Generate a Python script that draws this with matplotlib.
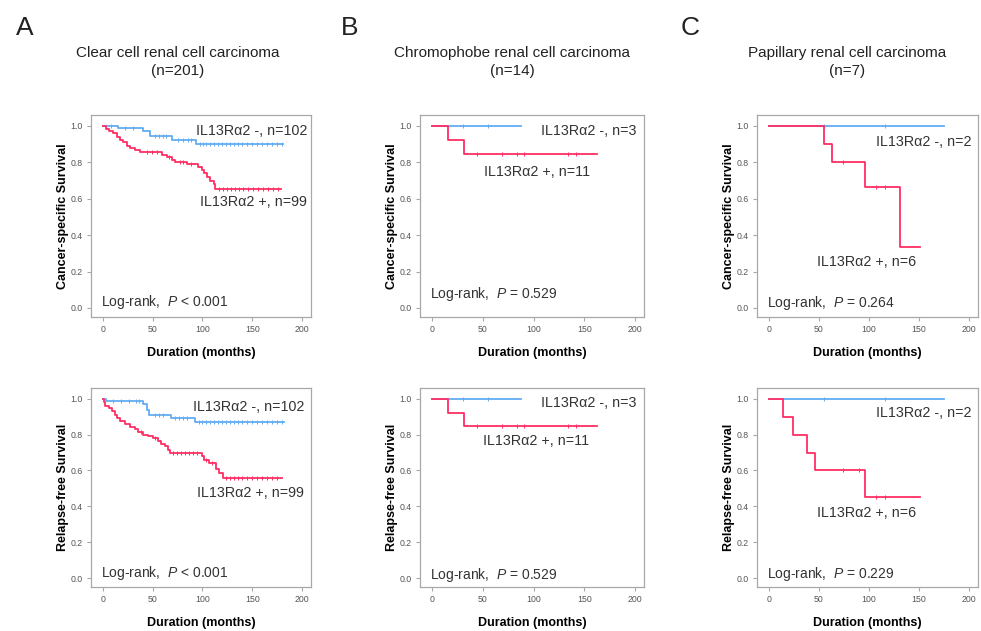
import numpy as np
import matplotlib
matplotlib.use("Agg")
import matplotlib.pyplot as plt

plt.rcParams['font.family'] = ['Liberation Sans', 'DejaVu Sans']
plt.rcParams['mathtext.fontset'] = 'custom'
plt.rcParams['mathtext.rm'] = 'Liberation Sans'
plt.rcParams['mathtext.it'] = 'Liberation Sans:italic'

BLUE = '#62adf2'
RED = '#ff2e63'

# ---- data: (event times, survival after each step), last time = end of follow-up
# A: clear cell, cancer-specific
a_css_neg_t = [0, 15, 40, 47, 69, 93, 181]
a_css_neg_s = [1.0, 0.99, 0.973, 0.945, 0.925, 0.90, 0.90]
a_css_neg_c = [8, 22, 30, 52, 56, 60, 63, 75, 80, 85, 88, 97, 101, 104, 108, 112, 116, 120, 124,
               128, 132, 136, 140, 145, 150, 155, 160, 165, 170, 175, 180]
a_css_pos_t = [0, 3, 6, 10, 14, 17, 20, 24, 27, 32, 37, 59, 64, 69, 72, 84, 95, 100, 102, 105,
               108, 112, 113, 179]
a_css_pos_s = [1.0, 0.985, 0.97, 0.96, 0.94, 0.925, 0.91, 0.89, 0.88, 0.866, 0.855, 0.84, 0.83,
               0.815, 0.80, 0.79, 0.775, 0.757, 0.74, 0.72, 0.70, 0.68, 0.655, 0.655]
a_css_pos_c = [44, 49, 54, 66, 77, 80, 88, 117, 121, 125, 129, 133, 137, 141, 146, 151, 156,
               161, 166, 171, 176]

# A: clear cell, relapse-free
a_rfs_neg_t = [0, 3, 40, 44, 46, 68, 92, 182]
a_rfs_neg_s = [1.0, 0.985, 0.97, 0.94, 0.91, 0.893, 0.868, 0.868]
a_rfs_neg_c = [10, 18, 26, 33, 36, 52, 56, 60, 72, 76, 80, 84, 96, 100, 104, 108, 112, 116, 120,
               124, 128, 132, 136, 140, 145, 150, 155, 160, 165, 170, 175, 180]
a_rfs_pos_t = [0, 0.7, 2.3, 5.6, 9, 12.3, 14, 17.3, 22.3, 27.2, 32.2, 35.5, 40.5, 45.5, 49.8,
               55.5, 58.8, 62.1, 65.4, 67.1, 99.7, 102, 107, 113.6, 117, 120.3, 180]
a_rfs_pos_s = [1.0, 0.98, 0.96, 0.95, 0.93, 0.91, 0.89, 0.875, 0.86, 0.845, 0.83, 0.815, 0.80,
               0.79, 0.78, 0.765, 0.75, 0.735, 0.715, 0.70, 0.68, 0.66, 0.64, 0.61, 0.585, 0.56,
               0.56]
a_rfs_pos_c = [38, 52, 70, 74, 78, 82, 86, 90, 94, 104, 110, 124, 128, 132, 136, 140, 145, 150,
               155, 160, 165, 170, 175]

# B: chromophobe (same curves for both endpoints)
b_neg_t = [0, 88]
b_neg_s = [1.0, 1.0]
b_neg_c = [30, 55]
b_pos_t = [0, 16, 31.4, 163]
b_pos_s = [1.0, 0.923, 0.846, 0.846]
b_pos_c = [44, 69, 84, 91, 134, 142]

# C: papillary
c_neg_t = [0, 175]
c_neg_s = [1.0, 1.0]
c_neg_c = [55, 116]
c_css_pos_t = [0, 55, 63, 95.5, 131, 151]
c_css_pos_s = [1.0, 0.9, 0.8, 0.667, 0.333, 0.333]
c_css_pos_c = [74, 107, 116]
c_rfs_pos_t = [0, 14, 23.6, 37.8, 46, 96, 151]
c_rfs_pos_s = [1.0, 0.9, 0.8, 0.7, 0.6, 0.45, 0.45]
c_rfs_pos_c = [74, 90, 107, 116]

titles = ['Clear cell renal cell carcinoma\n(n=201)',
          'Chromophobe renal cell carcinoma\n(n=14)',
          'Papillary renal cell carcinoma\n(n=7)']
letters = ['A', 'B', 'C']
pvals_css = ['< 0.001', '= 0.529', '= 0.264']
pvals_rfs = ['< 0.001', '= 0.529', '= 0.229']
neg_labels = ['IL13Rα2 -, n=102', 'IL13Rα2 -, n=3', 'IL13Rα2 -, n=2']
pos_labels = ['IL13Rα2 +, n=99', 'IL13Rα2 +, n=11', 'IL13Rα2 +, n=6']


def km(ax, t, s, cens, color):
    """Stufenkurva + cenzurovane znacky"""
    ax.step(t, s, where='post', color=color, lw=1.3)
    t = np.asarray(t)
    s = np.asarray(s)
    idx = np.searchsorted(t, cens, side='right') - 1
    ax.plot(cens, s[idx], ls='none', marker='|', ms=2.5, mew=0.7, color=color)


def style(ax, ylabel):
    for sp in ax.spines.values():
        sp.set_color('#a8a8a8')
        sp.set_linewidth(0.9)
    ax.set_xlim(-12, 209)
    ax.set_ylim(-0.05, 1.06)
    ax.set_xticks([0, 50, 100, 150, 200])
    ax.set_yticks([0, 0.2, 0.4, 0.6, 0.8, 1.0])
    ax.set_yticklabels(['0.0', '0.2', '0.4', '0.6', '0.8', '1.0'])
    ax.tick_params(direction='out', length=3, width=0.8, color='#a8a8a8',
                   labelsize=6.3, labelcolor='#555555', pad=3)
    ax.set_ylabel(ylabel, fontsize=9, fontweight='bold', labelpad=1)
    ax.set_xlabel('Duration (months)', fontsize=9, fontweight='bold', labelpad=9)


fig = plt.figure(figsize=(9.81, 6.31), dpi=100)
W, H = 981, 631
lefts = [91, 420, 757]
rights = [311, 644, 978]
rows = [(115, 317), (388, 587)]

axes = {}
for r, (top, bot) in enumerate(rows):
    for c in range(3):
        ax = fig.add_axes([lefts[c] / W, 1 - bot / H, (rights[c] - lefts[c]) / W, (bot - top) / H])
        axes[(r, c)] = ax

# --- top row: cancer-specific survival
ax = axes[(0, 0)]
km(ax, a_css_neg_t, a_css_neg_s, a_css_neg_c, BLUE)
km(ax, a_css_pos_t, a_css_pos_s, a_css_pos_c, RED)
ax = axes[(0, 1)]
km(ax, b_neg_t, b_neg_s, b_neg_c, BLUE)
km(ax, b_pos_t, b_pos_s, b_pos_c, RED)
ax = axes[(0, 2)]
km(ax, c_neg_t, c_neg_s, c_neg_c, BLUE)
km(ax, c_css_pos_t, c_css_pos_s, c_css_pos_c, RED)

# --- bottom row: relapse-free survival
ax = axes[(1, 0)]
km(ax, a_rfs_neg_t, a_rfs_neg_s, a_rfs_neg_c, BLUE)
km(ax, a_rfs_pos_t, a_rfs_pos_s, a_rfs_pos_c, RED)
ax = axes[(1, 1)]
km(ax, b_neg_t, b_neg_s, b_neg_c, BLUE)
km(ax, b_pos_t, b_pos_s, b_pos_c, RED)
ax = axes[(1, 2)]
km(ax, c_neg_t, c_neg_s, c_neg_c, BLUE)
km(ax, c_rfs_pos_t, c_rfs_pos_s, c_rfs_pos_c, RED)

# text positions (x right edge, y) for labels
neg_pos = [[(205, 0.973), (202, 0.971), (203, 0.91)],
           [(202, 0.954), (202, 0.974), (203, 0.923)]]
pos_pos = [[(205, 0.582), (156, 0.749), (147, 0.251)],
           [(202, 0.473), (155, 0.767), (147, 0.364)]]
log_y = [[0.033, 0.077, 0.026], [0.028, 0.018, 0.022]]

for r in range(2):
    pv = pvals_css if r == 0 else pvals_rfs
    ylabel = 'Cancer-specific Survival' if r == 0 else 'Relapse-free Survival'
    for c in range(3):
        ax = axes[(r, c)]
        style(ax, ylabel)
        tc = '#333333'
        ax.text(neg_pos[r][c][0], neg_pos[r][c][1], neg_labels[c], ha='right', va='center',
                fontsize=10.3, color=tc)
        ax.text(pos_pos[r][c][0], pos_pos[r][c][1], pos_labels[c], ha='right', va='center',
                fontsize=10.3, color=tc)
        ax.text(-2, log_y[r][c], 'Log-rank,  $P$ ' + pv[c], ha='left', va='center',
                fontsize=10, color=tc)

title_x = [178, 512, 847]
letter_x = [25, 350, 690]
for c in range(3):
    fig.text(title_x[c] / W, 1 - 62 / H, titles[c], ha='center', va='center',
             fontsize=11, linespacing=1.4, color='#222222')
    fig.text(letter_x[c] / W, 1 - 28 / H, letters[c], ha='center', va='center',
             fontsize=19, color='#222222')

fig.savefig('out.png', dpi=100)
